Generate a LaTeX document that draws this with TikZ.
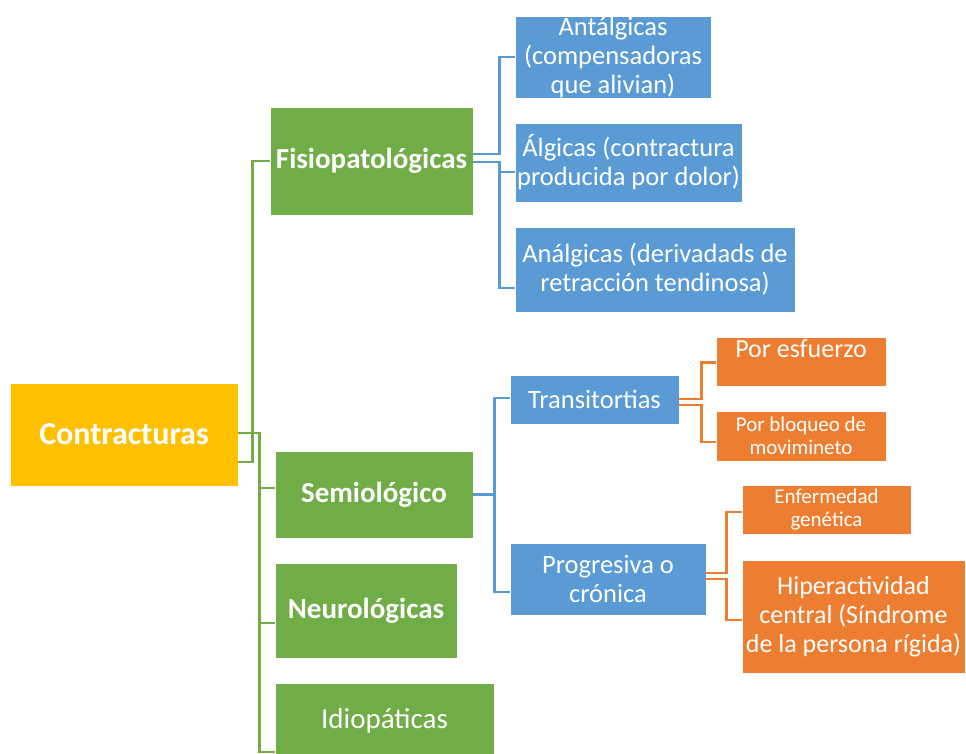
\documentclass[tikz,border=0pt]{standalone}
\usepackage{fontspec}
\setmainfont{Carlito}
\usetikzlibrary{calc}
\definecolor{cyellow}{HTML}{FFC000}
\definecolor{cgreen}{HTML}{70AD47}
\definecolor{cblue}{HTML}{5B9BD5}
\definecolor{corange}{HTML}{ED7D31}
\tikzset{
  box/.style={draw=white, line width=0.6pt, text=white, inner sep=0pt, align=center},
  rootbox/.style={box, fill=cyellow, font=\fontsize{32}{35}\selectfont\bfseries},
  lvlone/.style={box, fill=cgreen, font=\fontsize{29}{32}\selectfont\bfseries},
  lvloneplain/.style={box, fill=cgreen, font=\fontsize{29}{32}\selectfont},
  lvltwo/.style={box, fill=cblue, font=\fontsize{26.5}{29}\selectfont},
  lvlthree/.style={box, fill=corange, font=\fontsize{26}{29}\selectfont},
  lvlthreesmall/.style={box, fill=corange, font=\fontsize{21}{23.5}\selectfont},
  gline/.style={draw=cgreen, line width=2.6pt},
  bline/.style={draw=cblue, line width=2.6pt},
  oline/.style={draw=corange, line width=2.6pt},
}
\begin{document}
\begin{tikzpicture}[x=1pt, y=-1pt]
\useasboundingbox (0,0) rectangle (966,753);

% root
\node[rootbox, minimum width=228pt, minimum height=103pt] (contr) at (124,434.5) {Contracturas};

% first level
\node[lvlone, minimum width=203pt, minimum height=108pt] (fisio) at (371.5,161) {Fisiopatológicas};
\node[lvlone, minimum width=198pt, minimum height=87pt] (semio) at (374,494.5) {Semiológico};
\node[lvlone, minimum width=182pt, minimum height=95pt] (neuro) at (366,610.5) {Neurológicas};
\node[lvloneplain, minimum width=219pt, minimum height=76pt] (idio) at (384.5,721) {Idiopáticas};

% second level
\node[lvltwo, minimum width=196pt, minimum height=82pt] (ant) at (613,57) {Antálgicas\\(compensadoras\\que alivian)};
\node[lvltwo, minimum width=227pt, minimum height=79pt] (alg) at (628.5,162.5) {Álgicas (contractura\\producida por dolor)};
\node[lvltwo, minimum width=280pt, minimum height=85pt] (analg) at (655,269.5) {Análgicas (derivadads de\\retracción tendinosa)};
\node[lvltwo, minimum width=169pt, minimum height=49pt] (trans) at (594.5,399.5) {Transitortias};
\node[lvltwo, minimum width=196pt, minimum height=72pt] (prog) at (608,579) {Progresiva o\\crónica};

% third level
\node[lvlthree, minimum width=170pt, text height=20pt, text depth=29pt] (esf) at (801,337) [anchor=north] {Por esfuerzo};
\node[lvlthreesmall, minimum width=170pt, minimum height=50pt] (bloq) at (801,436) {Por bloqueo de\\movimineto};
\node[lvlthreesmall, minimum width=169pt, minimum height=49pt] (enf) at (826.5,509.5) {Enfermedad\\genética};
\node[lvlthree, minimum width=223pt, minimum height=113pt] (hiper) at (853.5,616.5) {Hiperactividad\\central (Síndrome\\de la persona rígida)};

% connectors: root to first level
\draw[gline] ([yshift=-27.5pt]contr.east) -| ($(fisio.west)+(-17,0)$) -- (fisio.west);
\draw[gline] ([yshift=1.5pt]contr.east) -| ($(semio.west)+(-15,-6.5)$) -- ([yshift=6.5pt]semio.west);
\draw[gline] ([yshift=1.5pt]contr.east) -| ($(neuro.west)+(-15,12.5)$) -- ([yshift=-12.5pt]neuro.west);
\draw[gline] ([yshift=1.5pt]contr.east) -| ($(idio.west)+(-15,31)$) -- ([yshift=-31pt]idio.west);

% Fisiopatológicas to its children
\draw[bline] ([yshift=7pt]fisio.east) -| ($(ant.west)+(-15,0)$) -- (ant.west);
\draw[bline] ([yshift=-1pt]fisio.east) -| ($(alg.west)+(-15,9.5)$) -- ([yshift=-9.5pt]alg.west);
\draw[bline] ([yshift=-1pt]fisio.east) -| ($(analg.west)+(-15,18.5)$) -- ([yshift=-18.5pt]analg.west);

% Semiológico to its children
\draw[bline] (semio.east) -| ($(trans.west)+(-15,-1.5)$) -- ([yshift=1.5pt]trans.west);
\draw[bline] (semio.east) -| ($(prog.west)+(-15,13)$) -- ([yshift=-13pt]prog.west);

% Transitortias to its children
\draw[oline] ([yshift=0.5pt]trans.east) -| ($(esf.west)+(-14,0.5)$) -- ([yshift=-0.5pt]esf.west);
\draw[oline] ([yshift=-5.5pt]trans.east) -| ($(bloq.west)+(-14,6)$) -- ([yshift=-6pt]bloq.west);

% Progresiva o crónica to its children
\draw[oline] ([yshift=6pt]prog.east) -| ($(enf.west)+(-15,2.5)$) -- ([yshift=-2.5pt]enf.west);
\draw[oline] (prog.east) -| ($(hiper.west)+(-15,3.5)$) -- ([yshift=-3.5pt]hiper.west);
\end{tikzpicture}
\end{document}
